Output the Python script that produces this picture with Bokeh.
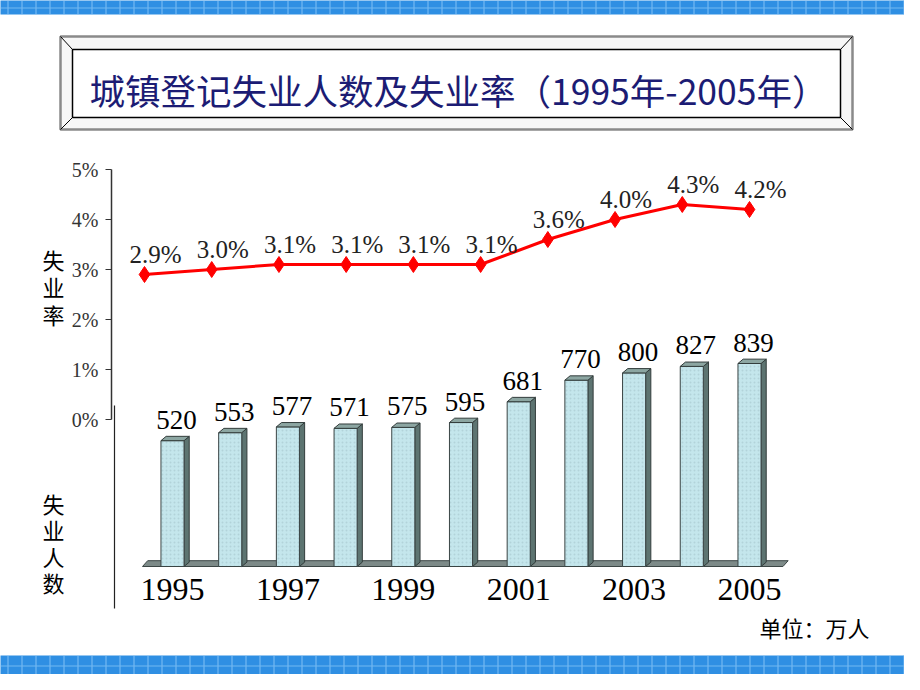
from bokeh.plotting import figure
from bokeh.models import Range1d, LinearAxis, FixedTicker, PrintfTickFormatter, ColumnDataSource
from bokeh.core.properties import value
from bokeh.embed import file_html
from bokeh.resources import INLINE

# ---------------- data ----------------
title_text = "城镇登记失业人数及失业率（1995年-2005年）"
rate_years = [1995, 1996, 1997, 1998, 1999, 2000, 2001, 2002, 2003, 2004]
rate_values = [2.9, 3.0, 3.1, 3.1, 3.1, 3.1, 3.6, 4.0, 4.3, 4.2]
rate_labels = ["2.9%", "3.0%", "3.1%", "3.1%", "3.1%", "3.1%", "3.6%", "4.0%", "4.3%", "4.2%"]
bar_years = [1995, 1996, 1997, 1998, 1999, 2000, 2001, 2002, 2003, 2004, 2005]
bar_values = [520, 553, 577, 571, 575, 595, 681, 770, 800, 827, 839]
bar_labels = [str(v) for v in bar_values]
year_ticks = [1995, 1997, 1999, 2001, 2003, 2005]
pct_ticks = [0, 1, 2, 3, 4, 5]
rate_axis_label = "失\n业\n率"
count_axis_label = "失\n业\n人\n数"
unit_label = "单位：万人"

# ---------------- layout (page pixel anchors) ----------------
W, H = 904, 674
PX0, PX1 = 8, 8 + W      # page x of frame left/right
PY0, PY1 = 8, 8 + H      # page y of frame top/bottom


def xr(v0, p0, v1, p1):
    s = (p1 - p0) / (v1 - v0)
    return Range1d(v0 + (PX0 - p0) / s, v0 + (PX1 - p0) / s)


def yr(v0, p0, v1, p1):
    s = (p1 - p0) / (v1 - v0)
    return Range1d(v0 + (PY1 - p0) / s, v0 + (PY0 - p0) / s)


p = figure(width=W, height=H, output_backend="svg", toolbar_location=None,
           x_axis_type=None, y_axis_type=None,
           x_range=Range1d(PX0, PX1), y_range=Range1d(PY1, PY0),
           min_border=0, outline_line_color=None,
           background_fill_color="white", border_fill_color="white")
p.extra_x_ranges = {"line": xr(1995, 152, 2004, 757),
                     "bar": xr(1995, 180, 2005, 757)}
p.extra_y_ranges = {"pct": yr(0, 427, 5, 177),
                    "cnt": yr(0, 574, 839, 371)}

# ---------------- decorative bands ----------------
for top, bot in [(0, 22), (663, 690)]:
    p.quad(left=[0], right=[920], top=[top], bottom=[bot],
           fill_color="#2f8fe3", line_color=None,
           hatch_pattern="+", hatch_color="#8fc9f6", hatch_scale=14,
           hatch_weight=1.2, hatch_alpha=0.7)

# ---------------- title box ----------------
p.quad(left=[68], right=[860], top=[44], bottom=[137], fill_color="#f7f7f7",
       line_color="#8a8a8a", line_width=2.5)
p.quad(left=[80], right=[848], top=[57], bottom=[125], fill_color="white",
       line_color="black", line_width=1.5)
p.segment(x0=[68, 860, 68, 860], y0=[44, 44, 137, 137],
          x1=[80, 848, 80, 848], y1=[57, 57, 125, 125],
          line_color="black", line_width=1)
p.text(x=[97], y=[97], text=[title_text], text_font=value("Noto Sans CJK SC"),
       text_font_size="35.5px", text_color="#1c1c74",
       text_align="left", text_baseline="middle")

# ---------------- side labels ----------------
p.text(x=[61], y=[294], text=[rate_axis_label], text_font=value("Noto Sans CJK SC"),
       text_font_size="22px", text_color="black", text_align="center",
       text_baseline="middle", text_line_height=0.85)
p.text(x=[61], y=[550], text=[count_axis_label], text_font=value("Noto Sans CJK SC"),
       text_font_size="22px", text_color="black", text_align="center",
       text_baseline="middle", text_line_height=0.83)
p.text(x=[767], y=[634], text=[unit_label], text_font=value("Noto Sans CJK SC"),
       text_font_size="22px", text_color="black", text_align="left",
       text_baseline="middle")

# count axis line (left, below the rate axis)
p.segment(x0=[122], y0=[413], x1=[122], y1=[616], line_color="#222222", line_width=1.2)

# ---------------- 3D bars ----------------
w, dx, dy = 0.40, 0.09, 18
floor_l, floor_r = 1994.48, 2005.58
p.patch(x=[floor_l, floor_r, floor_r + dx, floor_l + dx],
        y=[0, 0, dy + 6, dy + 6], x_range_name="bar", y_range_name="cnt",
        fill_color="#7d8a88", line_color="#3c4645", line_width=1)

front = ColumnDataSource(dict(
    left=[x - w / 2 for x in bar_years], right=[x + w / 2 for x in bar_years],
    top=bar_values, bottom=[0] * len(bar_values)))
side_xs = [[x + w / 2, x + w / 2 + dx, x + w / 2 + dx, x + w / 2] for x in bar_years]
side_ys = [[0, dy, v + dy, v] for v in bar_values]
top_xs = [[x - w / 2, x + w / 2, x + w / 2 + dx, x - w / 2 + dx] for x in bar_years]
top_ys = [[v, v, v + dy, v + dy] for v in bar_values]

p.patches(xs=side_xs, ys=side_ys, x_range_name="bar", y_range_name="cnt",
          fill_color="#5d7471", line_color="#333d3c", line_width=1)
p.quad(source=front, left="left", right="right", top="top", bottom="bottom",
       x_range_name="bar", y_range_name="cnt",
       fill_color="#c4e6ec", line_color="#3a4444", line_width=1,
       hatch_pattern=".", hatch_color="#9fbfc6", hatch_scale=4, hatch_alpha=0.5)
p.patches(xs=top_xs, ys=top_ys, x_range_name="bar", y_range_name="cnt",
          fill_color="#8ca6a2", line_color="#333d3c", line_width=1)

p.text(x=bar_years, y=bar_values, text=bar_labels, x_range_name="bar", y_range_name="cnt",
       text_font=value("Liberation Serif"), text_font_size="27px", text_color="black",
       text_align="center", text_baseline="middle", x_offset=4, y_offset=-21)

# ---------------- rate line ----------------
p.line(x=rate_years, y=rate_values, x_range_name="line", y_range_name="pct",
       line_color="#ff0000", line_width=3)
p.scatter(x=rate_years, y=rate_values, x_range_name="line", y_range_name="pct",
          marker="diamond", size=16, fill_color="#ff0000", line_color="#ff0000")
p.text(x=rate_years, y=rate_values, text=rate_labels, x_range_name="line", y_range_name="pct",
       text_font=value("Liberation Serif"), text_font_size="25px", text_color="#222222",
       text_align="center", text_baseline="middle", x_offset=11, y_offset=-20)

# ---------------- axes ----------------
ax_pct = LinearAxis(y_range_name="pct", fixed_location=119, bounds=(0, 5),
                    ticker=FixedTicker(ticks=pct_ticks),
                    formatter=PrintfTickFormatter(format="%d%%"),
                    axis_line_color="#333333", axis_line_width=1.5,
                    major_tick_line_color="#333333", major_tick_out=6, major_tick_in=0,
                    minor_tick_line_color=None, major_label_standoff=7,
                    major_label_text_font="Liberation Serif",
                    major_label_text_font_size="20px",
                    major_label_text_color="#333333")
p.add_layout(ax_pct, "left")

ax_year = LinearAxis(x_range_name="bar", fixed_location=575,
                     ticker=FixedTicker(ticks=year_ticks),
                     major_label_overrides={y: str(y) for y in year_ticks},
                     axis_line_color=None, major_tick_line_color=None,
                     minor_tick_line_color=None, major_label_standoff=5,
                     major_label_text_font="Liberation Serif",
                     major_label_text_font_size="32px",
                     major_label_text_color="black")
p.add_layout(ax_year, "below")

open("out.html", "w").write(file_html(p, INLINE))
